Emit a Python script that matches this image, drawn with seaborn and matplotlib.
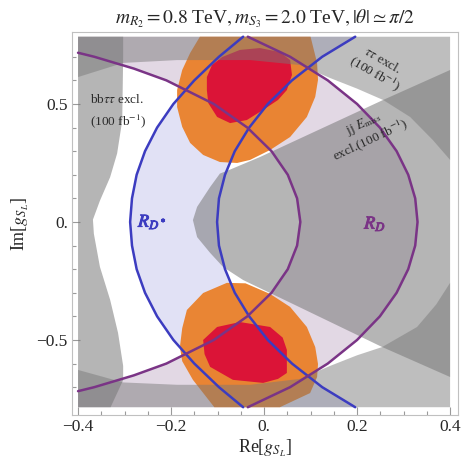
import matplotlib
matplotlib.use("Agg")
import matplotlib.pyplot as plt
import matplotlib.patheffects as pe
import seaborn as sns

# --- data (Re, Im of g_SL) ---
X_MIN, X_MAX, Y_MIN, Y_MAX = -0.4, 0.4, -0.785, 0.785

# R_D* contours (blue), listed from top to bottom
rdstar_y = [0.785, 0.70, 0.60, 0.50, 0.40, 0.30, 0.20, 0.10, 0.00,
            -0.10, -0.20, -0.30, -0.40, -0.50, -0.60, -0.70, -0.785]
rdstar_left_x = [-0.045, -0.097, -0.150, -0.195, -0.230, -0.256, -0.274, -0.284, -0.288,
                 -0.284, -0.274, -0.256, -0.230, -0.195, -0.150, -0.097, -0.045]
rdstar_right_x = [0.196, 0.125, 0.060, 0.008, -0.032, -0.063, -0.084, -0.097, -0.101,
                  -0.097, -0.084, -0.063, -0.032, 0.008, 0.060, 0.125, 0.196]

# R_D contours (purple)
rd_inner_y = [0.717, 0.70, 0.65, 0.60, 0.50, 0.40, 0.30, 0.20, 0.10, 0.00,
              -0.10, -0.20, -0.30, -0.40, -0.50, -0.60, -0.65, -0.70, -0.717]
rd_inner_x = [-0.400, -0.365, -0.280, -0.210, -0.108, -0.036, 0.016, 0.051, 0.071, 0.078,
              0.071, 0.051, 0.016, -0.036, -0.108, -0.210, -0.280, -0.365, -0.400]
rd_outer_y = [0.785, 0.70, 0.60, 0.50, 0.40, 0.30, 0.20, 0.10, 0.00,
              -0.10, -0.20, -0.30, -0.40, -0.50, -0.60, -0.70, -0.785]
rd_outer_x = [-0.035, 0.056, 0.137, 0.200, 0.249, 0.285, 0.310, 0.325, 0.330,
              0.325, 0.310, 0.285, 0.249, 0.200, 0.137, 0.056, -0.035]

# tau tau exclusion boundaries
tt_top_x = [-0.400, -0.303, -0.187, -0.030, 0.077, 0.142, 0.200, 0.256, 0.314, 0.363, 0.400]
tt_top_y = [0.614, 0.674, 0.686, 0.686, 0.665, 0.610, 0.565, 0.517, 0.445, 0.347, 0.263]
tt_bot_x = [-0.400, -0.303, -0.187, -0.030, 0.077, 0.142, 0.200, 0.254, 0.329, 0.370, 0.400]
tt_bot_y = [-0.627, -0.680, -0.690, -0.690, -0.665, -0.610, -0.565, -0.530, -0.445, -0.350, -0.258]

# bb tau tau exclusion (left band) boundary, top to bottom
bb_x = [-0.303, -0.303, -0.305, -0.316, -0.331, -0.353, -0.368, -0.366, -0.353,
        -0.331, -0.314, -0.303, -0.303, -0.330]
bb_y = [0.785, 0.700, 0.430, 0.290, 0.190, 0.090, 0.010, -0.050, -0.190,
        -0.330, -0.470, -0.610, -0.670, -0.785]

# jj + E_miss exclusion wedge
jj_x = [0.400, 0.256, -0.009, -0.073, -0.095, -0.116, -0.144, -0.153, -0.144, -0.116,
        -0.088, -0.045, 0.013, 0.254, 0.400]
jj_y = [0.644, 0.517, 0.275, 0.222, 0.205, 0.148, 0.064, 0.008, -0.064, -0.131,
        -0.191, -0.246, -0.301, -0.530, -0.657]

# preferred regions (orange = 2 sigma, red = 1 sigma)
orange_top_x = [-0.138, -0.159, -0.176, -0.187, -0.187, -0.176, -0.159, -0.131, -0.095, -0.058,
                -0.030, 0.013, 0.056, 0.092, 0.110, 0.116, 0.114, 0.100]
orange_top_y = [0.785, 0.716, 0.644, 0.559, 0.487, 0.403, 0.335, 0.284, 0.254, 0.250,
                0.263, 0.305, 0.360, 0.445, 0.530, 0.602, 0.674, 0.785]
orange_bot_x = [-0.107, -0.153, -0.176, -0.181, -0.176, -0.166, -0.131, -0.080, -0.040,
                0.013, 0.056, 0.092, 0.110, 0.116, 0.114, 0.099, 0.034]
orange_bot_y = [-0.785, -0.669, -0.590, -0.530, -0.450, -0.373, -0.301, -0.258, -0.260,
                -0.305, -0.360, -0.445, -0.530, -0.602, -0.657, -0.725, -0.785]
red_top_x = [-0.123, -0.112, -0.090, -0.052, -0.009, 0.034, 0.056, 0.060, 0.049, 0.030,
             -0.002, -0.037, -0.073, -0.101, -0.120, -0.123]
red_top_y = [0.614, 0.665, 0.699, 0.729, 0.737, 0.720, 0.686, 0.623, 0.559, 0.517,
             0.475, 0.432, 0.419, 0.445, 0.504, 0.559]
red_bot_x = [-0.131, -0.101, -0.052, 0.013, 0.040, 0.049, 0.049, 0.030, -0.002, -0.067,
             -0.116, -0.128]
red_bot_y = [-0.500, -0.445, -0.424, -0.445, -0.490, -0.542, -0.640, -0.665, -0.682, -0.669,
             -0.614, -0.560]

x_ticks = [-0.4, -0.2, 0.0, 0.2, 0.4]
x_tick_labels = ["\u22120.4", "\u22120.2", "0.", "0.2", "0.4"]
y_ticks = [-0.5, 0.0, 0.5]
y_tick_labels = ["\u22120.5", "0.", "0.5"]

# --- style ---
sns.set_theme(style="white")
plt.rcParams["font.family"] = ["Liberation Serif", "DejaVu Serif"]
plt.rcParams["mathtext.fontset"] = "stix"

fig = plt.figure(figsize=(4.61, 4.70), dpi=100)
ax = fig.add_axes([72 / 461, 55 / 470, 386 / 461, 383 / 470])

GRAY = (0.47, 0.47, 0.47)
BLUE = "#3c3cc0"
PURPLE = "#7a3486"

# R_D* band
ax.fill(rdstar_left_x + rdstar_right_x[::-1], rdstar_y + rdstar_y[::-1],
        color="#5a5ac8", alpha=0.18, lw=0, zorder=1)

# R_D band
rd_poly_x = rd_outer_x + [X_MIN] + rd_inner_x[::-1] + [X_MIN]
rd_poly_y = rd_outer_y + [Y_MIN] + rd_inner_y[::-1] + [Y_MAX]
ax.fill(rd_poly_x, rd_poly_y, color="#6e3c78", alpha=0.2, lw=0, zorder=2)

# preferred regions
ax.fill(orange_top_x, orange_top_y, color="#ea8029", alpha=0.95, lw=0, zorder=3)
ax.fill(orange_bot_x, orange_bot_y, color="#ea8029", alpha=0.95, lw=0, zorder=3)
ax.fill(red_top_x, red_top_y, color="#db1437", lw=0, zorder=3.5)
ax.fill(red_bot_x, red_bot_y, color="#db1437", lw=0, zorder=3.5)

# exclusions
ax.fill(tt_top_x + [X_MAX, X_MIN], tt_top_y + [Y_MAX, Y_MAX], color=GRAY, alpha=0.48, lw=0, zorder=4)
ax.fill(tt_bot_x + [X_MAX, X_MIN], tt_bot_y + [Y_MIN, Y_MIN], color=GRAY, alpha=0.48, lw=0, zorder=4)
ax.fill(bb_x + [X_MIN, X_MIN], bb_y + [Y_MIN, Y_MAX], color=GRAY, alpha=0.55, lw=0, zorder=4)
ax.fill(jj_x, jj_y, color=GRAY, alpha=0.55, lw=0, zorder=4)

# contour lines
for xs, ys, c in [(rdstar_left_x, rdstar_y, BLUE), (rdstar_right_x, rdstar_y, BLUE),
                  (rd_inner_x, rd_inner_y, PURPLE), (rd_outer_x, rd_outer_y, PURPLE)]:
    sns.lineplot(x=xs, y=ys, sort=False, estimator=None, color=c, lw=1.8, ax=ax, zorder=6)

# labels inside the plot
txt = dict(color="#2a2a2a", fontsize=9.5, zorder=7)
ax.text(-0.374, 0.517, r"bb$\tau\tau$ excl.", ha="left", va="center", **txt)
ax.text(-0.374, 0.428, r"(100 fb$^{-1}$)", ha="left", va="center", **txt)
ax.text(0.245, 0.653, "$\\tau\\tau$ excl.\n(100 fb$^{-1}$)", ha="center", va="center",
        rotation=-30, linespacing=1.0, **txt)
ax.text(0.222, 0.381, "jj $E_{\\mathrm{miss}}$\nexcl.(100 fb$^{-1}$)", ha="center", va="center",
        rotation=25, linespacing=1.0, **txt)
ax.text(-0.240, 0.0, r"$R_{D^*}$", color=BLUE, fontsize=13, ha="center", va="center", zorder=7,
        path_effects=[pe.withStroke(linewidth=0.7, foreground=BLUE)])
ax.text(0.239, -0.008, r"$R_D$", color=PURPLE, fontsize=13, ha="center", va="center", zorder=7,
        path_effects=[pe.withStroke(linewidth=0.7, foreground=PURPLE)])

# axes / frame in Mathematica style
ax.set_xlim(-0.413, 0.417)
ax.set_ylim(-0.818, 0.805)
ax.set_xticks(x_ticks)
ax.set_xticklabels(x_tick_labels)
ax.set_yticks(y_ticks)
ax.set_yticklabels(y_tick_labels)
ax.set_xticks([-0.35, -0.3, -0.25, -0.15, -0.1, -0.05, 0.05, 0.1, 0.15, 0.25, 0.3, 0.35], minor=True)
ax.set_yticks([-0.7, -0.6, -0.4, -0.3, -0.2, -0.1, 0.1, 0.2, 0.3, 0.4, 0.6, 0.7], minor=True)
ax.tick_params(which="both", direction="in", color="#9a9a9a", width=0.8,
               bottom=True, left=True, top=False, right=False, labelsize=12.5, pad=3)
ax.tick_params(which="major", length=6)
ax.tick_params(which="minor", length=3)
for s in ax.spines.values():
    s.set_color("#c0c0c0")
    s.set_linewidth(0.8)

ax.set_xlabel(r"Re[$g_{S_L}$]", fontsize=13, labelpad=2)
ax.set_ylabel(r"Im[$g_{S_L}$]", fontsize=13, labelpad=4)
ax.set_title(r"$m_{R_2} = 0.8$ TeV$, m_{S_3} = 2.0$ TeV$, |\theta| \simeq \pi/2$",
             fontsize=14, pad=6)

fig.savefig("out.png", dpi=100)
